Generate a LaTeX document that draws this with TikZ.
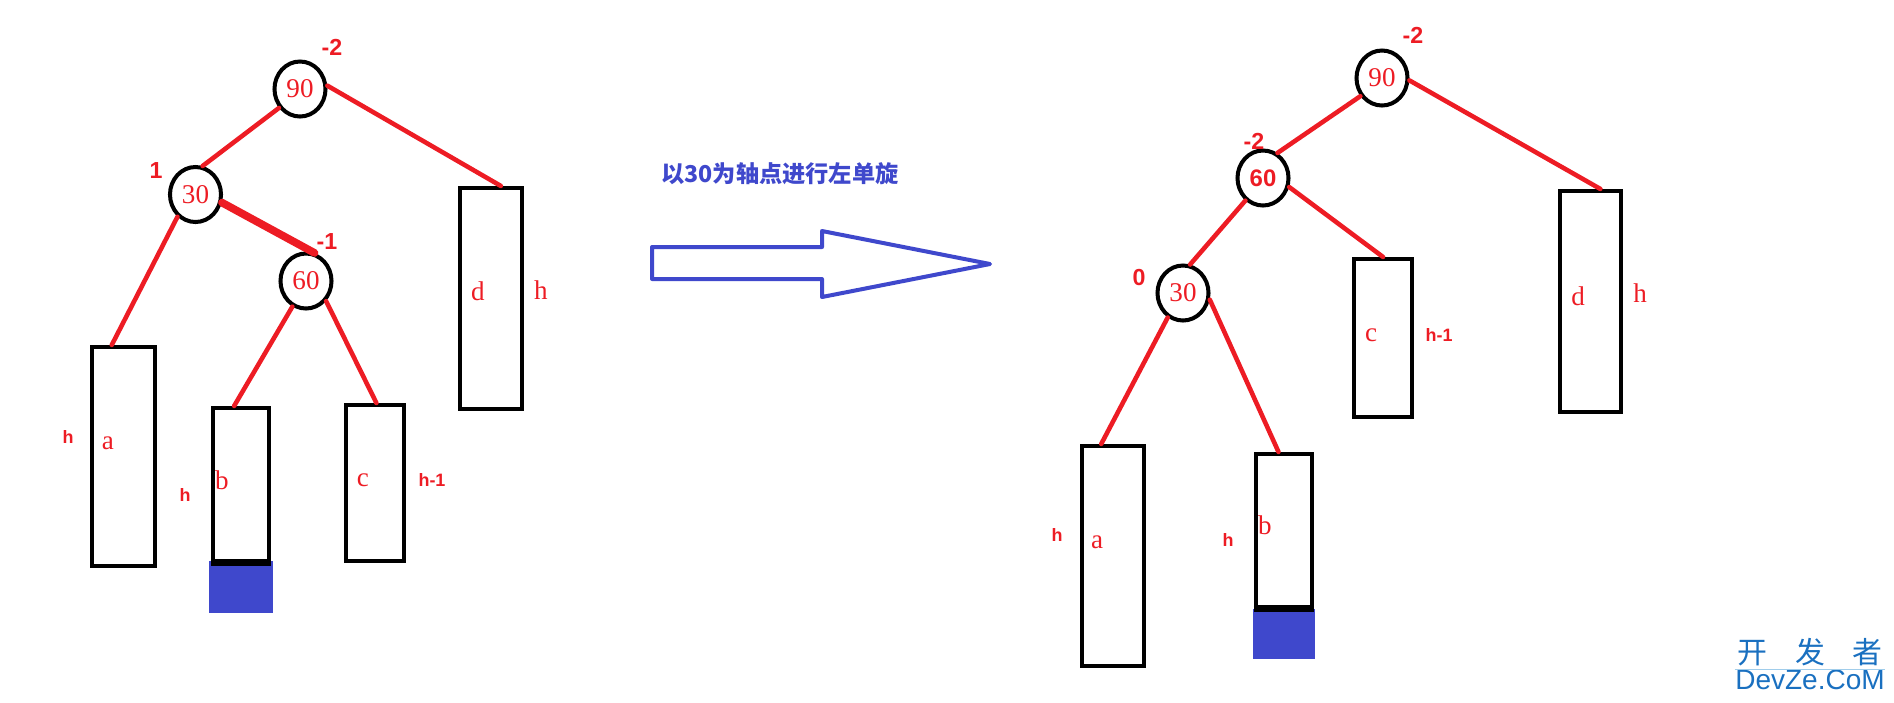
\documentclass[tikz,border=0pt]{standalone}
\usepackage{fontspec}
\setmainfont{Liberation Serif}
\setsansfont{Liberation Sans}
\newfontfamily\cjk{Noto Sans CJK SC}
\usetikzlibrary{shapes.geometric}
\definecolor{colR}{RGB}{237,28,36}
\definecolor{colB}{RGB}{63,72,204}
\definecolor{colWm}{RGB}{26,112,192}
\definecolor{colWmLine}{RGB}{160,205,235}
\tikzstyle{vertex}=[ellipse, draw, line width=1.14pt, inner sep=0pt, minimum width=0.51cm, minimum height=0.55cm, text=colR, font=\fontsize{7.7}{9}\selectfont]
\tikzstyle{vertexB}=[vertex, font=\sffamily\bfseries\fontsize{6.8}{8}\selectfont]
\tikzstyle{subtree}=[rectangle, draw, line width=1.14pt, inner sep=0pt]
\tikzstyle{redge}=[line width=1.3pt, colR, line cap=round]
\tikzstyle{tname}=[text=colR, inner sep=0pt, font=\fontsize{7.7}{9}\selectfont]
\tikzstyle{bal}=[text=colR, inner sep=0pt, font=\sffamily\bfseries\fontsize{6.6}{8}\selectfont]
\tikzstyle{hgt}=[text=colR, inner sep=0pt, font=\sffamily\bfseries\fontsize{5.1}{6}\selectfont]

\begin{document}
\begin{tikzpicture}[x=0.01cm, y=-0.01cm]
			\useasboundingbox (0,0) rectangle (1894,702);

			%%% Left tree
			\node[vertex] (L90) at (300, 89.0) {90};
			\node[vertex] (L30) at (195.5, 194.5) {30};
			\node[vertex] (L60) at (306, 281.0) {60};
			\node[bal] at (332, 47) {-2};
			\node[bal] at (156, 171) {1};
			\node[bal] at (327, 242) {-1};

			\fill[colB] (209, 561) rectangle (273, 613);
			\node[subtree, minimum width=0.63cm, minimum height=2.19cm] (La) at (123.5, 456.5) {};
			\node[subtree, minimum width=0.56cm, minimum height=1.53cm] (Lb) at (241.0, 484.5) {};
			\node[subtree, minimum width=0.58cm, minimum height=1.56cm] (Lc) at (375.0, 483.0) {};
			\node[subtree, minimum width=0.62cm, minimum height=2.21cm] (Ld) at (491.0, 298.5) {};
			\draw[line width=1.6pt] (Lb.south west) -- (Lb.south east);

			% Labels
			\node[tname] at (108, 443) {a};
			\node[hgt]   at (68, 437)  {h};
			\node[tname] at (222, 480) {b};
			\node[hgt]   at (185, 495) {h};
			\node[tname] at (363, 480) {c};
			\node[hgt]   at (432, 480) {h-1};
			\node[tname] at (478, 291) {d};
			\node[tname] at (541, 290) {h};

			% Edges
			\draw[redge] (L90.222)edge(L30.76) (L90.7)edge(Ld.85) (L30.231)edge(La.96);
			\draw[redge] (L60.242)edge(Lb.95) (L60.315)edge(Lc.89);
			\draw[redge, line width=2.2pt] (L30.343)edge(L60.73);

			%%% Rotation
			\node[text=colB, font=\cjk\bfseries\fontsize{6.6}{8}\selectfont] (rot) at (780, 174) {以30为轴点进行左单旋};
			\draw[colB, line width=1.14pt, line join=round] (652, 247) -- (822, 247) -- (822, 231) -- (990, 264)
				-- (822, 297) -- (822, 279) -- (652, 279) -- cycle;

			%%% Right tree
			\node[vertex]  (R90) at (1382, 78) {90};
			\node[vertexB] (R60) at (1263, 178) {60};
			\node[vertex]  (R30) at (1183, 293) {30};
			\node[bal] at (1413, 35)  {-2};
			\node[bal] at (1254, 141) {-2};
			\node[bal] at (1139, 277) {0};

			\fill[colB] (1253, 609) rectangle (1315, 659);
			\node[subtree, minimum width=0.62cm, minimum height=2.20cm] (Ra) at (1113.0, 556.0) {};
			\node[subtree, minimum width=0.56cm, minimum height=1.53cm] (Rb) at (1284.0, 530.5) {};
			\node[subtree, minimum width=0.58cm, minimum height=1.58cm] (Rc) at (1383.0, 338.0) {};
			\node[subtree, minimum width=0.61cm, minimum height=2.21cm] (Rd) at (1590.5, 301.5) {};
			\draw[line width=1.6pt] (Rb.south west) -- (Rb.south east);

			% Labels
			\node[tname] at (1097, 542) {a};
			\node[hgt]   at (1057, 535) {h};
			\node[tname] at (1265, 525) {b};
			\node[hgt]   at (1228, 540) {h};
			\node[tname] at (1371, 335) {c};
			\node[hgt]   at (1439, 335) {h-1};
			\node[tname] at (1578, 296) {d};
			\node[tname] at (1640, 293) {h};

			% Edges
			\draw[redge] (R90.220)edge(R60.60) (R90.355)edge(Rd.85) (R60.232)edge(R30.76);
			\draw[redge] (R60.341)edge(Rc.90) (R30.238)edge(Ra.96) (R30.346)edge(Rb.94);

			%%% Watermark
			\node[text=colWm, inner sep=0pt, font=\cjk\fontsize{8.5}{10}\selectfont] (wm1) at (1810, 652) {开\hspace{0.28cm}发\hspace{0.28cm}者};
			\node[text=colWm, inner sep=0pt, font=\sffamily\fontsize{7.97}{9}\selectfont] (wm2) at (1810, 680) {DevZe.CoM};
			\draw[colWmLine, line width=0.3pt] (wm2.north west) -- (wm2.north east);
\end{tikzpicture}
\end{document}
